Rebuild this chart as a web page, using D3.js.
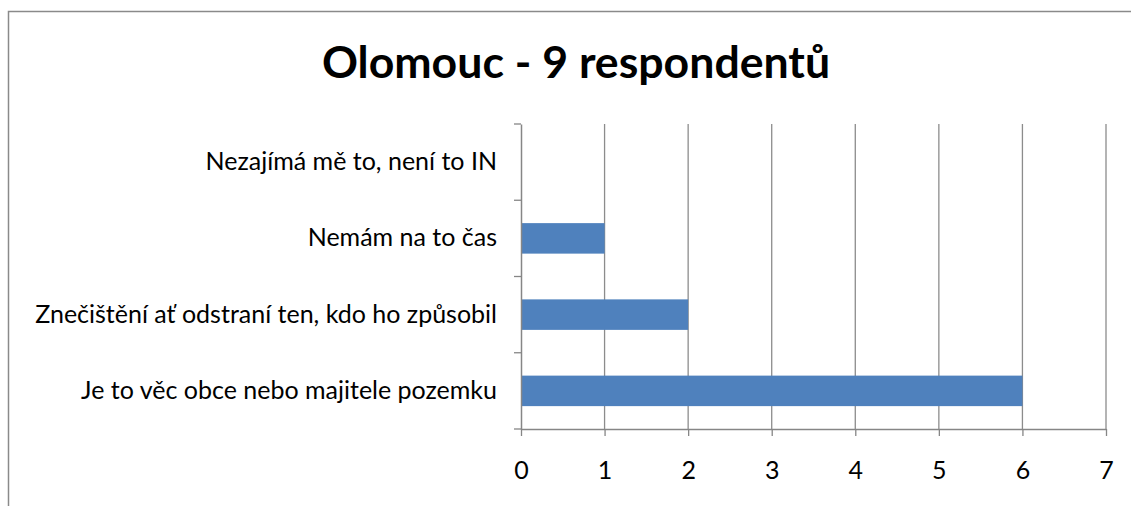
<!DOCTYPE html>
<html><head><meta charset="utf-8">
<script src="https://cdn.jsdelivr.net/npm/d3@7"></script>
<style>body{margin:0;background:#fff;}svg{display:block;}</style>
</head><body>
<svg id="c" width="1131" height="506"></svg>
<script>
const title = "Olomouc - 9 respondentů";
const categories = ["Je to věc obce nebo majitele pozemku","Znečištění ať odstraní ten, kdo ho způsobil","Nemám na to čas","Nezajímá mě to, není to IN"];
const values = [6, 2, 1, 0];
const xTicks = [0,1,2,3,4,5,6,7];

(function(){
const svg = d3.select("#c");
const font = "Lato, 'Open Sans', sans-serif";
svg.append("rect").attr("x",8.5).attr("y",11.5).attr("width",1140).attr("height",520)
  .attr("fill","#fff").attr("stroke","#8a8a8a").attr("stroke-width",1.5);

svg.append("text").attr("x",576).attr("y",78).attr("text-anchor","middle")
  .attr("font-family",font).attr("font-weight","bold").attr("font-size",44.6).attr("fill","#000").text(title);

const pL=521, pR=1106, pT=124, pB=429;
const x = d3.scaleLinear().domain([0,7]).range([pL,pR]);
const y = d3.scaleBand().domain(categories.slice().reverse()).range([pT,pB]).paddingInner(0.6).paddingOuter(0.3);
const yb = d3.scaleBand().domain(categories.slice().reverse()).range([pT,pB]);

svg.append("g").selectAll("line").data(xTicks.filter(d=>d>0)).join("line")
  .attr("x1",d=>x(d)).attr("x2",d=>x(d)).attr("y1",pT).attr("y2",pB)
  .attr("stroke","#8c8c8c").attr("stroke-width",1.3);

svg.append("g").selectAll("rect").data(categories).join("rect")
  .attr("x",x(0)).attr("y",d=>y(d)).attr("height",y.bandwidth())
  .attr("width",(d,i)=>x(values[i])-x(0)).attr("fill","#4f81bd");

const xa = svg.append("g").attr("transform",`translate(0,${pB})`)
  .call(d3.axisBottom(x).tickValues(xTicks).tickFormat(d3.format("d")).tickSize(7).tickPadding(25).tickSizeOuter(0));
xa.select(".domain").attr("stroke","#868686").attr("stroke-width",1.5);
xa.selectAll(".tick line").attr("stroke","#868686").attr("stroke-width",1.3);
xa.selectAll("text").attr("font-family",font).attr("font-size",25).attr("fill","#000");

const ya = svg.append("g").attr("transform",`translate(${pL},0)`)
  .call(d3.axisLeft(yb).tickSize(0).tickPadding(24));
ya.select(".domain").attr("stroke","#868686").attr("stroke-width",1.5);
ya.selectAll("text").attr("font-family",font).attr("font-size",25).attr("fill","#000");
const bounds = categories.map(c=>yb(c)).concat([pT,pB]);
svg.append("g").selectAll("line").data(Array.from(new Set(bounds))).join("line")
  .attr("x1",pL-7).attr("x2",pL).attr("y1",d=>d).attr("y2",d=>d)
  .attr("stroke","#868686").attr("stroke-width",1.3);
})();
</script>
</body></html>
